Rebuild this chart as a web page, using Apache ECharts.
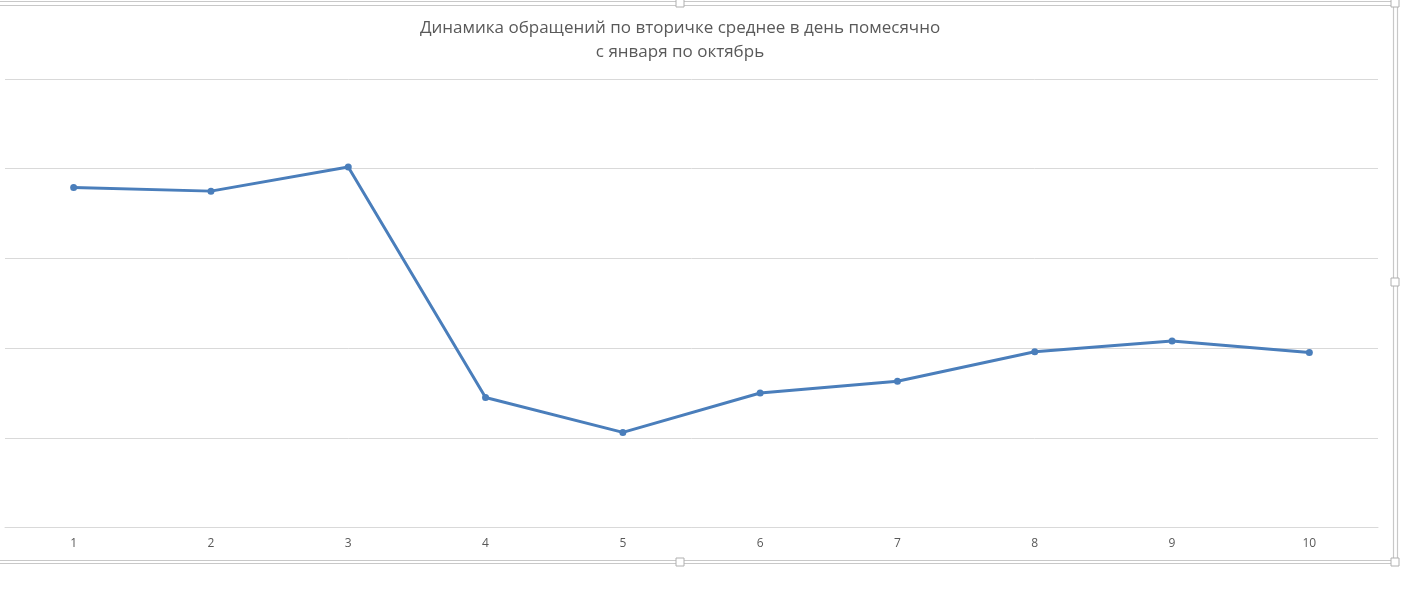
<!DOCTYPE html>
<html>
<head>
<meta charset="utf-8">
<script src="https://cdn.jsdelivr.net/npm/echarts@6/dist/echarts.min.js"></script>
<style>
html,body{margin:0;padding:0;background:#fff;}
#chart{width:1403px;height:600px;}
</style>
</head>
<body>
<div id="chart"></div>
<script>
const categories = ['1','2','3','4','5','6','7','8','9','10'];
const values = [3.79, 3.75, 4.02, 1.45, 1.06, 1.50, 1.63, 1.96, 2.08, 1.95];
const titleLines = ['Динамика обращений по вторичке среднее в день помесячно', 'с января по октябрь'];

const chart = echarts.init(document.getElementById('chart'));
const frameColor = '#c8c8c8';
function handle(x, y) {
  return {type:'rect', shape:{x:x-4, y:y-4, width:8, height:8}, style:{fill:'#fff', stroke:'#b0b0b0', lineWidth:1}, z:10};
}
chart.setOption({
  animation: false,
  backgroundColor: '#fff',
  title: {
    text: titleLines.join('\n'),
    left: 675, top: 11, textAlign: 'center',
    textStyle: {fontFamily: 'Open Sans', fontSize: 17, fontWeight: 'normal', color: '#595959', lineHeight: 24}
  },
  grid: {left: 5, right: 25, top: 79, bottom: 72.5, containLabel: false},
  xAxis: {
    type: 'category', data: categories, boundaryGap: true,
    axisLine: {show: true, lineStyle: {color: '#d9d9d9', width: 1}},
    axisTick: {show: false},
    axisLabel: {color: '#595959', fontFamily: 'Open Sans', fontSize: 12, margin: 10}
  },
  yAxis: {
    type: 'value', min: 0, max: 5, interval: 1,
    axisLabel: {show: false}, axisLine: {show: false}, axisTick: {show: false},
    splitLine: {lineStyle: {color: '#d9d9d9', width: 1}}
  },
  series: [{
    type: 'line', data: values,
    symbol: 'circle', symbolSize: 7,
    lineStyle: {color: '#4a7ebb', width: 3},
    itemStyle: {color: '#4a7ebb'}
  }],
  graphic: [
    {type:'polyline', shape:{points:[[-5,1.5],[1397.5,1.5],[1397.5,563.5],[-5,563.5]]}, style:{stroke:frameColor, fill:null, lineWidth:1.2}},
    {type:'polyline', shape:{points:[[-5,5.5],[1393.5,5.5],[1393.5,560.5],[-5,560.5]]}, style:{stroke:frameColor, fill:null, lineWidth:1.2}},
    handle(680, 3), handle(680, 562), handle(1395, 3), handle(1395, 562), handle(1395, 282)
  ]
});
</script>
</body>
</html>
